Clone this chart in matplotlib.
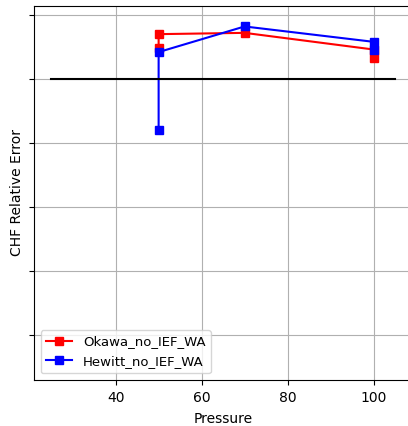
import numpy as np
import matplotlib.pyplot as plt

# valores
pressure_okawa = [50, 50, 70, 100, 100]
error_okawa = [0.24, 0.35, 0.36, 0.23, 0.16]
pressure_hewitt = [50, 50, 70, 100, 100]
error_hewitt = [-0.40, 0.21, 0.41, 0.29, 0.23]
ref_x = [25, 105]
ref_y = [0, 0]
y_ticks = [0.5, 0.0, -0.5, -1.0, -1.5, -2.0]

fig = plt.figure(figsize=(4.08, 4.26), dpi=100)
ax = fig.add_axes([0.0833, 0.108, 0.927, 0.878])

ax.plot(pressure_okawa, error_okawa, 's-', color='red', label='Okawa_no_IEF_WA')
ax.plot(pressure_hewitt, error_hewitt, 's-', color='blue', label='Hewitt_no_IEF_WA')
ax.plot(ref_x, ref_y, color='black')

ax.set_xlim(21, 109)
ax.set_ylim(-2.35, 0.57)
ax.set_xticks([40, 60, 80, 100])
ax.set_yticks(y_ticks)
ax.set_yticklabels([])
ax.tick_params(axis='x', pad=4.5)
ax.grid(True)
ax.set_xlabel('Pressure', labelpad=5)
ax.set_ylabel('CHF Relative Error', labelpad=0)
ax.legend(loc='lower left', fontsize=9.5)

plt.savefig('out.png')
